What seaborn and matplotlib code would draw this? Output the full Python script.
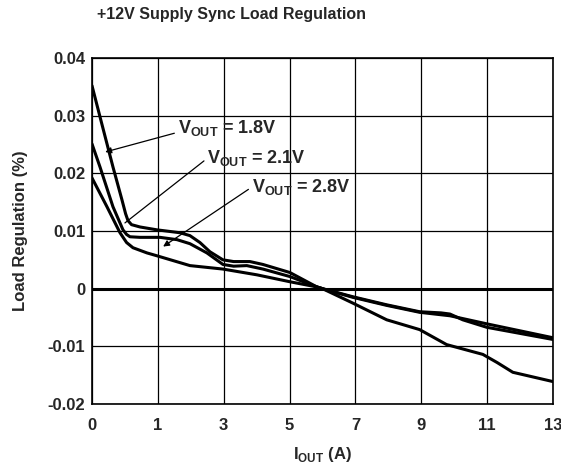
import matplotlib
matplotlib.use("Agg")
import matplotlib.pyplot as plt
import pandas as pd
import seaborn as sns

# x positions are in axis units where the first gridline is labelled "0"
x_18 = [-1.0, -0.757, -0.363, -0.09, 0.02, 0.093, 0.2, 0.457, 0.973, 1.671, 1.974, 2.278, 2.581, 2.976,
        3.3, 3.795, 4.19, 5.009, 5.829, 6.0, 6.92, 7.95, 8.95, 9.77, 10.87, 11.3, 11.78, 12.99]
y_18 = [0.0352, 0.0298, 0.0211, 0.0154, 0.0130, 0.0118, 0.0111, 0.0107, 0.0102, 0.0097, 0.0092, 0.0080,
        0.0064, 0.0050, 0.0047, 0.0047, 0.0042, 0.0028, 0.0003, 0.0, -0.0025, -0.0054, -0.0071, -0.0097,
        -0.0114, -0.0128, -0.0145, -0.0161]

x_21 = [-1.0, -0.757, -0.363, -0.059, 0.05, 0.153, 0.457, 1.064, 1.58, 1.974, 2.49, 2.976,
        3.3, 3.70, 4.19, 5.01, 5.83, 6.0, 6.92, 7.95, 8.95, 9.6, 9.87, 10.26, 10.99, 12.99]
y_21 = [0.0251, 0.0211, 0.0142, 0.0102, 0.0094, 0.0090, 0.0089, 0.0089, 0.0085, 0.0078, 0.0062, 0.0042,
        0.0039, 0.0040, 0.0034, 0.0021, 0.0003, 0.0, -0.0014, -0.0028, -0.0040, -0.0042, -0.0044,
        -0.0054, -0.0067, -0.0088]

x_28 = [-1.0, -0.545, -0.15, 0.05, 0.244, 0.669, 0.973, 1.974, 2.976, 4.008, 5.009, 5.83, 6.0,
        6.92, 7.95, 8.95, 9.87, 10.99, 12.99]
y_28 = [0.0192, 0.0142, 0.0097, 0.0080, 0.0071, 0.0062, 0.0057, 0.0040, 0.0034, 0.0024, 0.0012,
        0.0003, 0.0, -0.0015, -0.0029, -0.0041, -0.0047, -0.0061, -0.0085]

tick_pos = [-1, 1, 3, 5, 7, 9, 11, 13]
tick_labels = ["0", "1", "3", "5", "7", "9", "11", "13"]
y_ticks = [-0.02, -0.01, 0, 0.01, 0.02, 0.03, 0.04]
y_labels = ["-0.02", "-0.01", "0", "0.01", "0.02", "0.03", "0.04"]

df = pd.concat([
    pd.DataFrame({"x": x_18, "y": y_18, "vout": "1.8V"}),
    pd.DataFrame({"x": x_21, "y": y_21, "vout": "2.1V"}),
    pd.DataFrame({"x": x_28, "y": y_28, "vout": "2.8V"}),
])

sns.set_style("white")
plt.rcParams["font.family"] = ["Liberation Sans", "DejaVu Sans"]
plt.rcParams["font.weight"] = "bold"
plt.rcParams["mathtext.fontset"] = "custom"
plt.rcParams["mathtext.bf"] = "Liberation Sans:bold"
plt.rcParams["mathtext.rm"] = "Liberation Sans:bold"

fig = plt.figure(figsize=(5.61, 4.69), dpi=100)
ax = fig.add_axes([92 / 561, 1 - 404 / 469, (553 - 92) / 561, (404 - 58) / 469])

sns.lineplot(data=df, x="x", y="y", hue="vout", palette=["black"] * 3,
             linewidth=2.2, legend=False, sort=False, ax=ax, zorder=3,
             solid_joinstyle="round", solid_capstyle="round")

ax.set_xlim(-1, 13)
ax.set_ylim(-0.02, 0.04)
ax.set_xticks(tick_pos)
ax.set_xticklabels(tick_labels, fontsize=12, fontweight="bold")
ax.set_yticks(y_ticks)
ax.set_yticklabels(y_labels, fontsize=12, fontweight="bold")
ax.tick_params(axis="x", length=0, pad=10)
ax.tick_params(axis="y", length=0, pad=5)
ax.grid(True, color="black", linewidth=0.9)
ax.axhline(0, color="black", linewidth=2.2, zorder=2)
for s in ax.spines.values():
    s.set_color("black")
    s.set_linewidth(1.2)

ax.set_xlabel(r"I$_{\mathbf{OUT}}$ (A)", fontsize=12, fontweight="bold", labelpad=9)
ax.set_ylabel("Load Regulation (%)", fontsize=12, fontweight="bold", labelpad=14)
fig.text(97 / 561, 1 - 15 / 469, "+12V Supply Sync Load Regulation", fontsize=11.5,
         fontweight="bold", va="center", ha="left")

arrow = dict(arrowstyle="-|>", color="black", lw=0.9, mutation_scale=9, shrinkA=0, shrinkB=0)
plain = dict(arrowstyle="-", color="black", lw=0.9, shrinkA=0, shrinkB=0)
ax.annotate(r"V$_{\mathbf{OUT}}$ = 1.8V", xy=(0.40 - 1, 0.0237), xytext=(2.6 - 1, 0.0278),
            fontsize=13, fontweight="bold", va="center", ha="left",
            arrowprops=dict(arrow, relpos=(0, 0.3)))
ax.annotate(r"V$_{\mathbf{OUT}}$ = 2.1V", xy=(1.0 - 1, 0.0114), xytext=(3.5 - 1, 0.0226),
            fontsize=13, fontweight="bold", va="center", ha="left",
            arrowprops=dict(plain, relpos=(0, 0.5)))
ax.annotate(r"V$_{\mathbf{OUT}}$ = 2.8V", xy=(2.16 - 1, 0.0073), xytext=(4.85 - 1, 0.0176),
            fontsize=13, fontweight="bold", va="center", ha="left",
            arrowprops=dict(arrow, relpos=(0, 0.5)))

fig.savefig("out.png", dpi=100)
